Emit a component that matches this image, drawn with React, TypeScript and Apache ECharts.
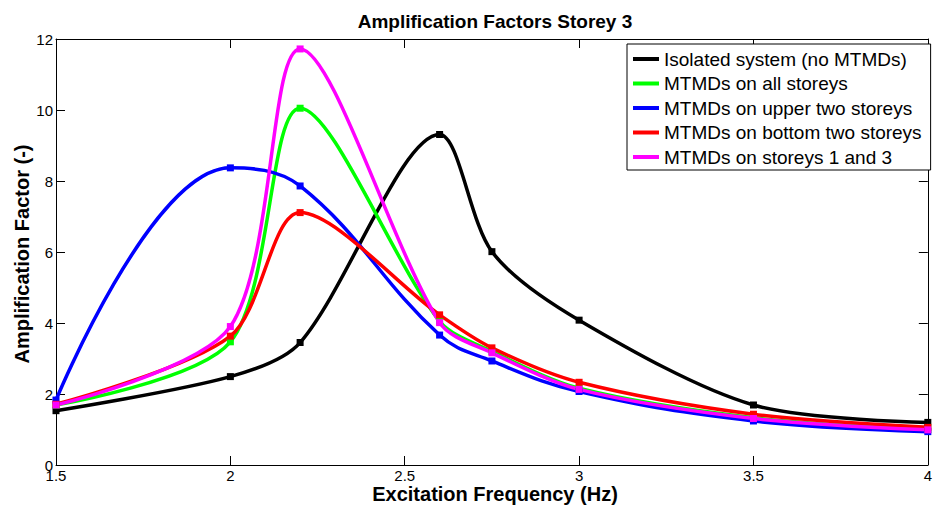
import React, { useEffect, useRef } from "react";
import * as echarts from "echarts";

const frequencies = [1.5, 2, 2.2, 2.6, 2.75, 3, 3.5, 4];
const isolated = [1.53, 2.49, 3.45, 9.31, 6.01, 4.08, 1.69, 1.2];
const allStoreys = [1.69, 3.47, 10.05, 4.05, 3.2, 2.16, 1.33, 1.0];
const upperTwo = [1.83, 8.37, 7.86, 3.66, 2.93, 2.07, 1.24, 0.94];
const bottomTwo = [1.71, 3.63, 7.11, 4.23, 3.3, 2.33, 1.43, 1.06];
const storeys13 = [1.69, 3.9, 11.72, 4.01, 3.16, 2.13, 1.31, 0.99];

const seriesNames = [
  "Isolated system (no MTMDs)",
  "MTMDs on all storeys",
  "MTMDs on upper two storeys",
  "MTMDs on bottom two storeys",
  "MTMDs on storeys 1 and 3",
];
const seriesValues = [isolated, allStoreys, upperTwo, bottomTwo, storeys13];
const seriesColors = ["#000000", "#00ff00", "#0000ff", "#ff0000", "#ff00ff"];
const seriesSmooth = [0.3, 0.3, 0.4, 0.3, 0.3];

const titleText = "Amplification Factors Storey 3";
const xTitle = "Excitation Frequency (Hz)";
const yTitle = "Amplification Factor (-)";

const FONT = "'Liberation Sans', Arial, Helvetica, sans-serif";

export default function App() {
  const ref = useRef<HTMLDivElement>(null);
  useEffect(() => {
    if (!ref.current) return;
    const chart = echarts.init(ref.current, undefined, { renderer: "svg" });
    const axisCommon = {
      type: "value" as const,
      splitLine: { show: false },
      axisLine: { show: true, onZero: false, lineStyle: { color: "#000", width: 1 } },
      axisTick: { show: true, inside: true, length: 9, lineStyle: { color: "#000", width: 1 } },
    };
    chart.setOption({
      animation: false,
      backgroundColor: "#fff",
      grid: { left: 56, right: 1, top: 39, bottom: 41, containLabel: false },
      xAxis: [
        {
          ...axisCommon,
          position: "bottom",
          min: 1.5,
          max: 4,
          interval: 0.5,
          axisLabel: { show: true, color: "#000", fontSize: 15, fontFamily: FONT, margin: 3, formatter: (v: number) => String(v) },
        },
        {
          ...axisCommon,
          position: "top",
          min: 1.5,
          max: 4,
          interval: 0.5,
          axisLabel: { show: false },
        },
      ],
      yAxis: [
        {
          ...axisCommon,
          position: "left",
          min: 0,
          max: 12,
          interval: 2,
          axisLabel: { show: true, color: "#000", fontSize: 15, fontFamily: FONT, margin: 3 },
        },
        {
          ...axisCommon,
          position: "right",
          min: 0,
          max: 12,
          interval: 2,
          axisLabel: { show: false },
        },
      ],
      legend: {
        orient: "vertical",
        left: 627,
        top: 44,
        backgroundColor: "#fff",
        borderColor: "#000",
        borderWidth: 1,
        borderRadius: 0,
        padding: [5, 9, 3, 6],
        itemGap: 4.5,
        itemWidth: 26,
        itemHeight: 4,
        icon: "rect",
        textStyle: { fontSize: 19, color: "#000", fontFamily: FONT, lineHeight: 20 },
        data: seriesNames,
      },
      graphic: [
        {
          type: "text",
          x: 495,
          y: 21,
          style: { text: titleText, font: `bold 19px ${FONT}`, fill: "#000", textAlign: "center", textVerticalAlign: "middle" },
        },
        {
          type: "text",
          x: 495,
          y: 494,
          style: { text: xTitle, font: `bold 20px ${FONT}`, fill: "#000", textAlign: "center", textVerticalAlign: "middle" },
        },
        {
          type: "text",
          x: 22,
          y: 254,
          rotation: Math.PI / 2,
          style: { text: yTitle, font: `bold 20px ${FONT}`, fill: "#000", textAlign: "center", textVerticalAlign: "middle" },
        },
      ],
      series: seriesNames.map((name, si) => ({
        name,
        type: "line",
        xAxisIndex: 0,
        yAxisIndex: 0,
        data: frequencies.map((f, i) => [f, seriesValues[si][i]]),
        smooth: seriesSmooth[si],
        symbol: "rect",
        symbolSize: 7,
        showAllSymbol: true,
        lineStyle: { width: 3.5, color: seriesColors[si] },
        itemStyle: { color: seriesColors[si] },
        emphasis: { disabled: true },
      })),
    });
    return () => chart.dispose();
  }, []);
  return <div ref={ref} style={{ position: "fixed", left: 0, top: 0, width: 935, height: 506 }} />;
}
